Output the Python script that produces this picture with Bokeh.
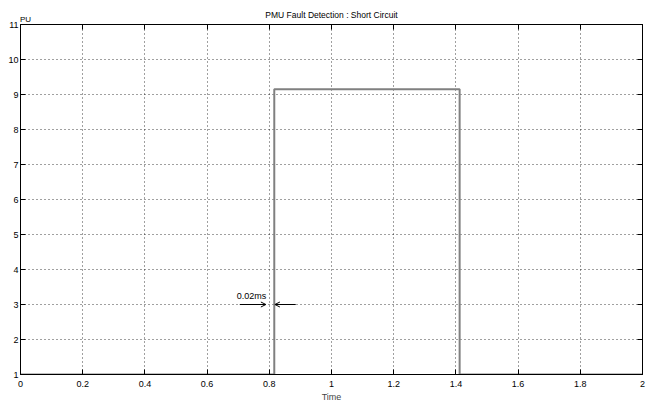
from bokeh.plotting import figure
from bokeh.models import (Range1d, LinearAxis, FixedTicker, Label, Arrow, OpenHead,
                          ColumnDataSource, CustomLabelingPolicy)
from bokeh.embed import file_html
from bokeh.resources import INLINE

# ---- data ----
time = [0.0, 0.816, 0.816, 1.412, 1.412, 2.0]
pu = [1.0, 1.0, 9.15, 9.15, 1.0, 1.0]

x_ticks = [0, 0.2, 0.4, 0.6, 0.8, 1.0, 1.2, 1.4, 1.6, 1.8, 2.0]
x_tick_labels = ["0", "0.2", "0.4", "0.6", "0.8", "1", "1.2", "1.4", "1.6", "1.8", "2"]
y_ticks = [1, 2, 3, 4, 5, 6, 7, 8, 9, 10, 11]
y_tick_labels = ["1", "2", "3", "4", "5", "6", "7", "8", "9", "10", "11"]

arrow_x_start = [0.705, 0.885]
arrow_x_end = [0.789, 0.818]
arrow_y = [3.0, 3.0]
note_text = "0.02ms"
note_x = 0.695
note_y = 3.09

title_text = "PMU Fault Detection : Short Circuit"
x_label = "Time"
y_label = "PU"

FONT = "Liberation Sans"
PU_POS = 0.016   # where the unit text sits along the top edge

p = figure(frame_width=622, frame_height=350,
           x_range=Range1d(0, 2), y_range=Range1d(1, 11),
           output_backend="svg", toolbar_location=None,
           min_border_left=20, min_border_right=6,
           min_border_top=24, min_border_bottom=28,
           title=title_text)
p.background_fill_color = "white"
p.border_fill_color = "white"
p.outline_line_color = "black"
p.outline_line_width = 1

p.title.text_font = FONT
p.title.text_font_size = "8.5px"
p.title.text_font_style = "normal"
p.title.text_color = "black"
p.title.align = "center"
p.title.vertical_align = "bottom"
p.title.standoff = -16

no_labels = CustomLabelingPolicy(code="""
const all = [...indices]
for (const i of all) indices.unset(i)
return indices
""")

def style_axis(ax, ticks, labels):
    ax.ticker = FixedTicker(ticks=ticks)
    ax.major_label_overrides = {t: l for t, l in zip(ticks, labels)}
    ax.major_tick_in = 5
    ax.major_tick_out = 0
    ax.minor_tick_in = 0
    ax.minor_tick_out = 0
    ax.axis_line_color = "black"
    ax.major_tick_line_color = "black"
    ax.minor_tick_line_color = "black"
    ax.major_label_text_font = FONT
    ax.major_label_text_color = "black"
    ax.major_label_text_font_size = "9px"

xa = p.xaxis[0]
style_axis(xa, x_ticks, x_tick_labels)
xa.major_label_standoff = 6
xa.axis_label = x_label
xa.axis_label_text_font = FONT
xa.axis_label_text_font_size = "9px"
xa.axis_label_text_font_style = "normal"
xa.axis_label_standoff = 2

ya = p.yaxis[0]
style_axis(ya, y_ticks, y_tick_labels)
ya.major_label_standoff = 2

# top axis: tick marks (as minor ticks) and the "PU" unit text near its left end
top = LinearAxis()
top.ticker = FixedTicker(ticks=[PU_POS], minor_ticks=x_ticks)
top.major_label_overrides = {PU_POS: y_label}
top.major_tick_in = 0
top.major_tick_out = 0
top.minor_tick_in = 5
top.minor_tick_out = 0
top.axis_line_color = "black"
top.minor_tick_line_color = "black"
top.major_label_text_font = FONT
top.major_label_text_color = "black"
top.major_label_text_font_size = "8px"
top.major_label_standoff = 1
p.add_layout(top, "above")

# right axis: ticks only
right = LinearAxis()
style_axis(right, y_ticks, y_tick_labels)
right.major_label_policy = no_labels
right.major_label_text_font_size = "0px"
right.major_label_standoff = 0
p.add_layout(right, "right")

p.grid.grid_line_color = "black"
p.grid.grid_line_dash = "1 3"
p.grid.grid_line_width = 1
p.grid.grid_line_alpha = 0.75
p.xgrid.ticker = FixedTicker(ticks=x_ticks)
p.ygrid.ticker = FixedTicker(ticks=y_ticks)

p.line(time, pu, line_color="#808080", line_width=2)

p.add_layout(Label(x=note_x, y=note_y, text=note_text, text_font=FONT, text_font_size="9px",
                   text_baseline="bottom", text_color="black"))

arrows = ColumnDataSource(dict(x0=arrow_x_start, x1=arrow_x_end, y=arrow_y))
p.add_layout(Arrow(end=OpenHead(size=5, line_color="black", line_width=1),
                   x_start="x0", y_start="y", x_end="x1", y_end="y",
                   source=arrows, line_color="black", line_width=1))

open("out.html", "w").write(file_html(p, INLINE))
